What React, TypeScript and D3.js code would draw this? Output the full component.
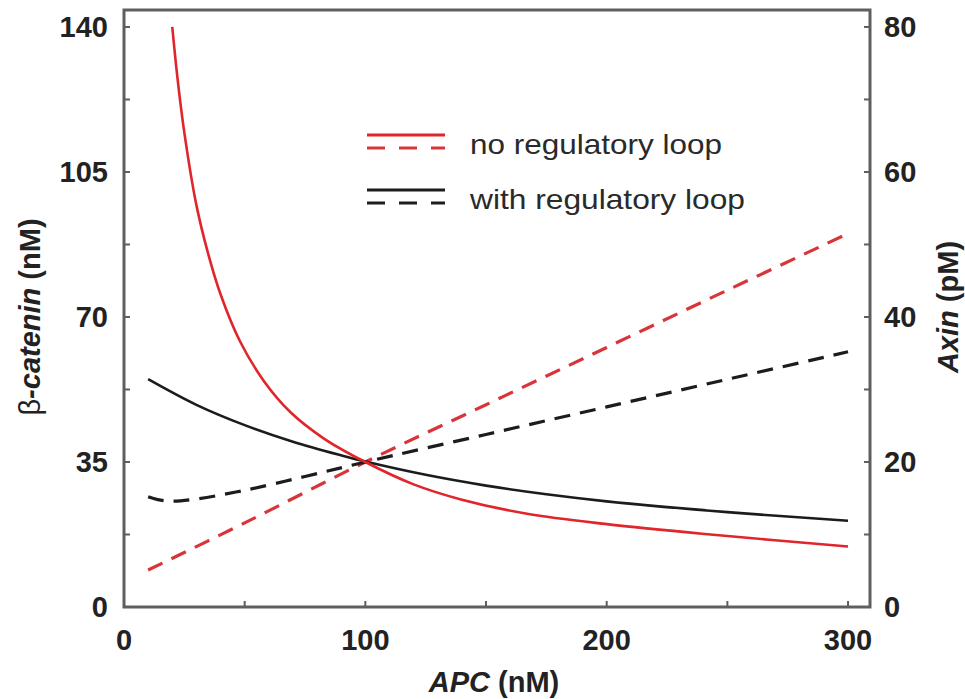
import React from "react";
import * as d3 from "d3";

// APC (nM) sample positions and values
const redSolidX = [20, 22, 25, 30, 35, 40, 48, 58, 69, 83, 100, 120, 140, 167, 200, 243, 300];
const redSolidY = [140, 128.5, 114.5, 97, 85, 75.5, 64.2, 54.5, 47, 40.6, 35, 29.6, 25.9, 22.5, 20, 17.5, 14.6];

const blackSolidX = [10, 30, 50, 70, 90, 100, 125, 150, 175, 200, 250, 300];
const blackSolidY = [55, 48.8, 43.9, 39.9, 36.6, 35.1, 31.9, 29.3, 27.2, 25.5, 22.9, 20.8];

const redDashedX = [10, 50, 100, 150, 200, 250, 300];
const redDashedY = [5.1, 11.6, 20, 27.9, 35.8, 43.7, 51.5];

const blackDashedX = [10, 14, 20, 30, 50, 75, 100, 150, 200, 250, 300];
const blackDashedY = [15.2, 14.8, 14.6, 14.9, 16.1, 18, 20, 23.8, 27.6, 31.4, 35.2];

const xTickLabels = [0, 100, 200, 300];
const xMinorTicks = [50, 150, 250];
const leftTickLabels = [0, 35, 70, 105, 140];
const leftMinorTicks = [17.5, 52.5, 87.5, 122.5];
const rightTickLabels = [0, 20, 40, 60, 80];
const rightMinorTicks = [10, 30, 50, 70];

const legendLabels = ["no regulatory loop", "with regulatory loop"];

const RED = "#e0252b";
const RED_D = "#d8353b";
const BLK = "#1c1c1c";
const FRAME = "#5f5f5f";
const FONT = "'Liberation Sans', Arial, Helvetica, sans-serif";

export default function App() {
  const W = 965, H = 699;
  const left = 124, right = 870, top = 10, bottom = 607;
  const x = d3.scaleLinear().domain([0, 309.1]).range([left, right]);
  const yL = d3.scaleLinear().domain([0, 144.1]).range([bottom, top]);
  const yR = d3.scaleLinear().domain([0, 82.34]).range([bottom, top]);

  const mk = (xs: number[], ys: number[], ys2: d3.ScaleLinear<number, number>) =>
    d3
      .line<number>()
      .x((_, i) => x(xs[i]))
      .y((_, i) => ys2(ys[i]))
      .curve(d3.curveCatmullRom.alpha(0.5))(xs) as string;

  const tickLen = 6;

  return (
    <svg width={W} height={H} style={{ display: "block", position: "absolute", left: 0, top: 0, background: "#fff" }} fontFamily={FONT}>
      <rect x={0} y={0} width={W} height={H} fill="#fff" />
      {/* curves */}
      <path d={mk(redDashedX, redDashedY, yR)} fill="none" stroke={RED_D} strokeWidth={3.2} strokeDasharray="16,10" />
      <path d={mk(blackDashedX, blackDashedY, yR)} fill="none" stroke={BLK} strokeWidth={3.2} strokeDasharray="16,10" />
      <path d={mk(blackSolidX, blackSolidY, yL)} fill="none" stroke={BLK} strokeWidth={2.6} />
      <path d={mk(redSolidX, redSolidY, yL)} fill="none" stroke={RED} strokeWidth={2.6} />

      {/* frame */}
      <rect x={left} y={top} width={right - left} height={bottom - top} fill="none" stroke={FRAME} strokeWidth={3} />

      {/* x ticks */}
      {[...xTickLabels, ...xMinorTicks].map((t) => (
        <line key={"xt" + t} x1={x(t)} x2={x(t)} y1={bottom} y2={bottom - tickLen} stroke={FRAME} strokeWidth={2} />
      ))}
      {xTickLabels.map((t) => (
        <text key={"xl" + t} x={x(t)} y={650} textAnchor="middle" fontSize={29} fontWeight="bold" fill="#222">
          {t}
        </text>
      ))}
      {/* left ticks */}
      {[...leftTickLabels, ...leftMinorTicks].map((t) => (
        <line key={"lt" + t} x1={left} x2={left + tickLen} y1={yL(t)} y2={yL(t)} stroke={FRAME} strokeWidth={2} />
      ))}
      {leftTickLabels.map((t) => (
        <text key={"ll" + t} x={108} y={yL(t)} dy="0.36em" textAnchor="end" fontSize={29} fontWeight="bold" fill="#222">
          {t}
        </text>
      ))}
      {/* right ticks */}
      {[...rightTickLabels, ...rightMinorTicks].map((t) => (
        <line key={"rt" + t} x1={right} x2={right - tickLen} y1={yR(t)} y2={yR(t)} stroke={FRAME} strokeWidth={2} />
      ))}
      {rightTickLabels.map((t) => (
        <text key={"rl" + t} x={884} y={yR(t)} dy="0.36em" textAnchor="start" fontSize={29} fontWeight="bold" fill="#222">
          {t}
        </text>
      ))}

      {/* axis titles */}
      <text x={494} y={692} textAnchor="middle" fontSize={29} fontWeight="bold" fill="#222">
        <tspan fontStyle="italic">APC</tspan>
        <tspan> (nM)</tspan>
      </text>
      <text transform="translate(40,317) rotate(-90)" textAnchor="middle" fontSize={29} fill="#222">
        <tspan>β</tspan>
        <tspan fontWeight="bold" fontStyle="italic">-catenin</tspan>
        <tspan fontWeight="bold"> (nM)</tspan>
      </text>
      <text transform="translate(958,307) rotate(-90)" textAnchor="middle" fontSize={29} fontWeight="bold" fill="#222">
        <tspan fontStyle="italic">Axin</tspan>
        <tspan> (pM)</tspan>
      </text>

      {/* legend */}
      <line x1={367} x2={445} y1={135} y2={135} stroke={RED} strokeWidth={3} />
      <line x1={367} x2={445} y1={148} y2={148} stroke={RED_D} strokeWidth={3.2} strokeDasharray="18,14" />
      <text x={470} y={154} fontSize={28} fill="#2a2a2a" textLength={252} lengthAdjust="spacingAndGlyphs">
        {legendLabels[0]}
      </text>
      <line x1={367} x2={445} y1={190} y2={190} stroke={BLK} strokeWidth={3} />
      <line x1={367} x2={445} y1={203} y2={203} stroke={BLK} strokeWidth={3.2} strokeDasharray="18,14" />
      <text x={470} y={209} fontSize={28} fill="#2a2a2a" textLength={275} lengthAdjust="spacingAndGlyphs">
        {legendLabels[1]}
      </text>
    </svg>
  );
}
